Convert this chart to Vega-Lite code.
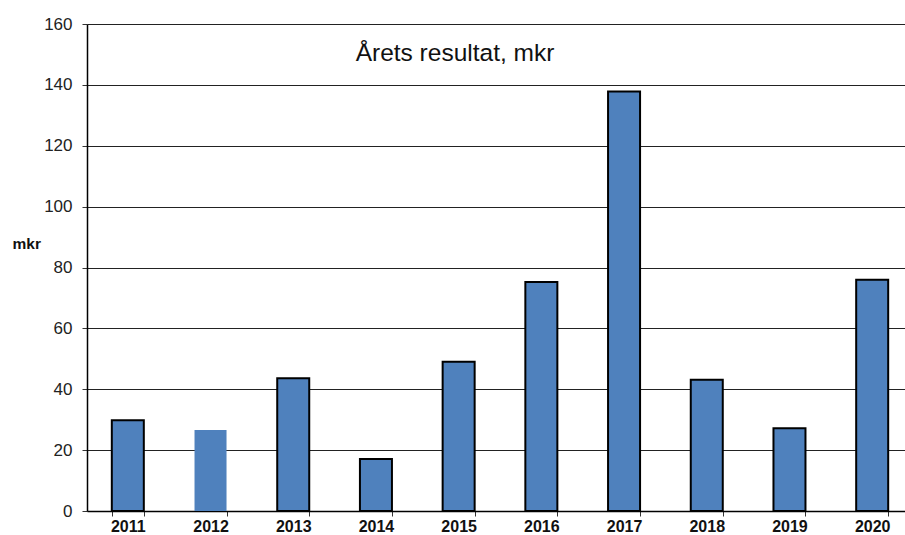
{
  "$schema": "https://vega.github.io/schema/vega-lite/v6.json",
  "width": 826,
  "height": 487,
  "autosize": {"type": "none"},
  "padding": {"left": 87, "top": 24, "right": 0, "bottom": 24},
  "background": "white",
  "title": {
    "text": "Årets resultat, mkr",
    "font": "Liberation Sans",
    "fontSize": 24.5,
    "fontWeight": "normal",
    "color": "#111111",
    "anchor": "middle",
    "dx": -45,
    "offset": -63,
    "baseline": "middle"
  },
  "data": {
    "values": [
      {"year": "2011", "value": 29.8},
      {"year": "2012", "value": 26.6},
      {"year": "2013", "value": 43.6},
      {"year": "2014", "value": 17.1},
      {"year": "2015", "value": 49.0},
      {"year": "2016", "value": 75.2},
      {"year": "2017", "value": 137.8},
      {"year": "2018", "value": 43.1},
      {"year": "2019", "value": 27.2},
      {"year": "2020", "value": 76.0}
    ]
  },
  "config": {
    "view": {"stroke": null},
    "axis": {"labelFont": "Liberation Sans", "titleFont": "Liberation Sans"}
  },
  "mark": {"type": "bar", "color": "#4F81BD", "stroke": "#000000"},
  "encoding": {
    "x": {
      "field": "year",
      "type": "ordinal",
      "scale": {"paddingInner": 0.613, "paddingOuter": 0.3},
      "axis": {
        "title": null,
        "labelAngle": 0,
        "labelFontSize": 16,
        "labelFontWeight": "bold",
        "labelColor": "#111111",
        "labelPadding": 2,
        "tickBand": "extent",
        "tickColor": "#333333",
        "tickSize": 5,
        "domainColor": "#000000",
        "domainWidth": 1.5,
        "grid": false
      }
    },
    "y": {
      "field": "value",
      "type": "quantitative",
      "scale": {"domain": [0, 160], "nice": false},
      "axis": {
        "values": [0, 20, 40, 60, 80, 100, 120, 140, 160],
        "title": "mkr",
        "titleAngle": 0,
        "titleFontSize": 15.5,
        "titleFontWeight": "bold",
        "titleColor": "#111111",
        "titleX": -75,
        "titleY": 219,
        "titleAlign": "left",
        "titleBaseline": "middle",
        "labelFontSize": 17,
        "labelColor": "#222222",
        "labelPadding": 10,
        "tickSize": 5,
        "tickColor": "#333333",
        "domainColor": "#000000",
        "domainWidth": 1.5,
        "grid": true,
        "gridColor": "#222222",
        "gridWidth": 1.2
      }
    },
    "strokeWidth": {
      "condition": {"test": "datum.year == '2012'", "value": 0},
      "value": 2
    }
  }
}
